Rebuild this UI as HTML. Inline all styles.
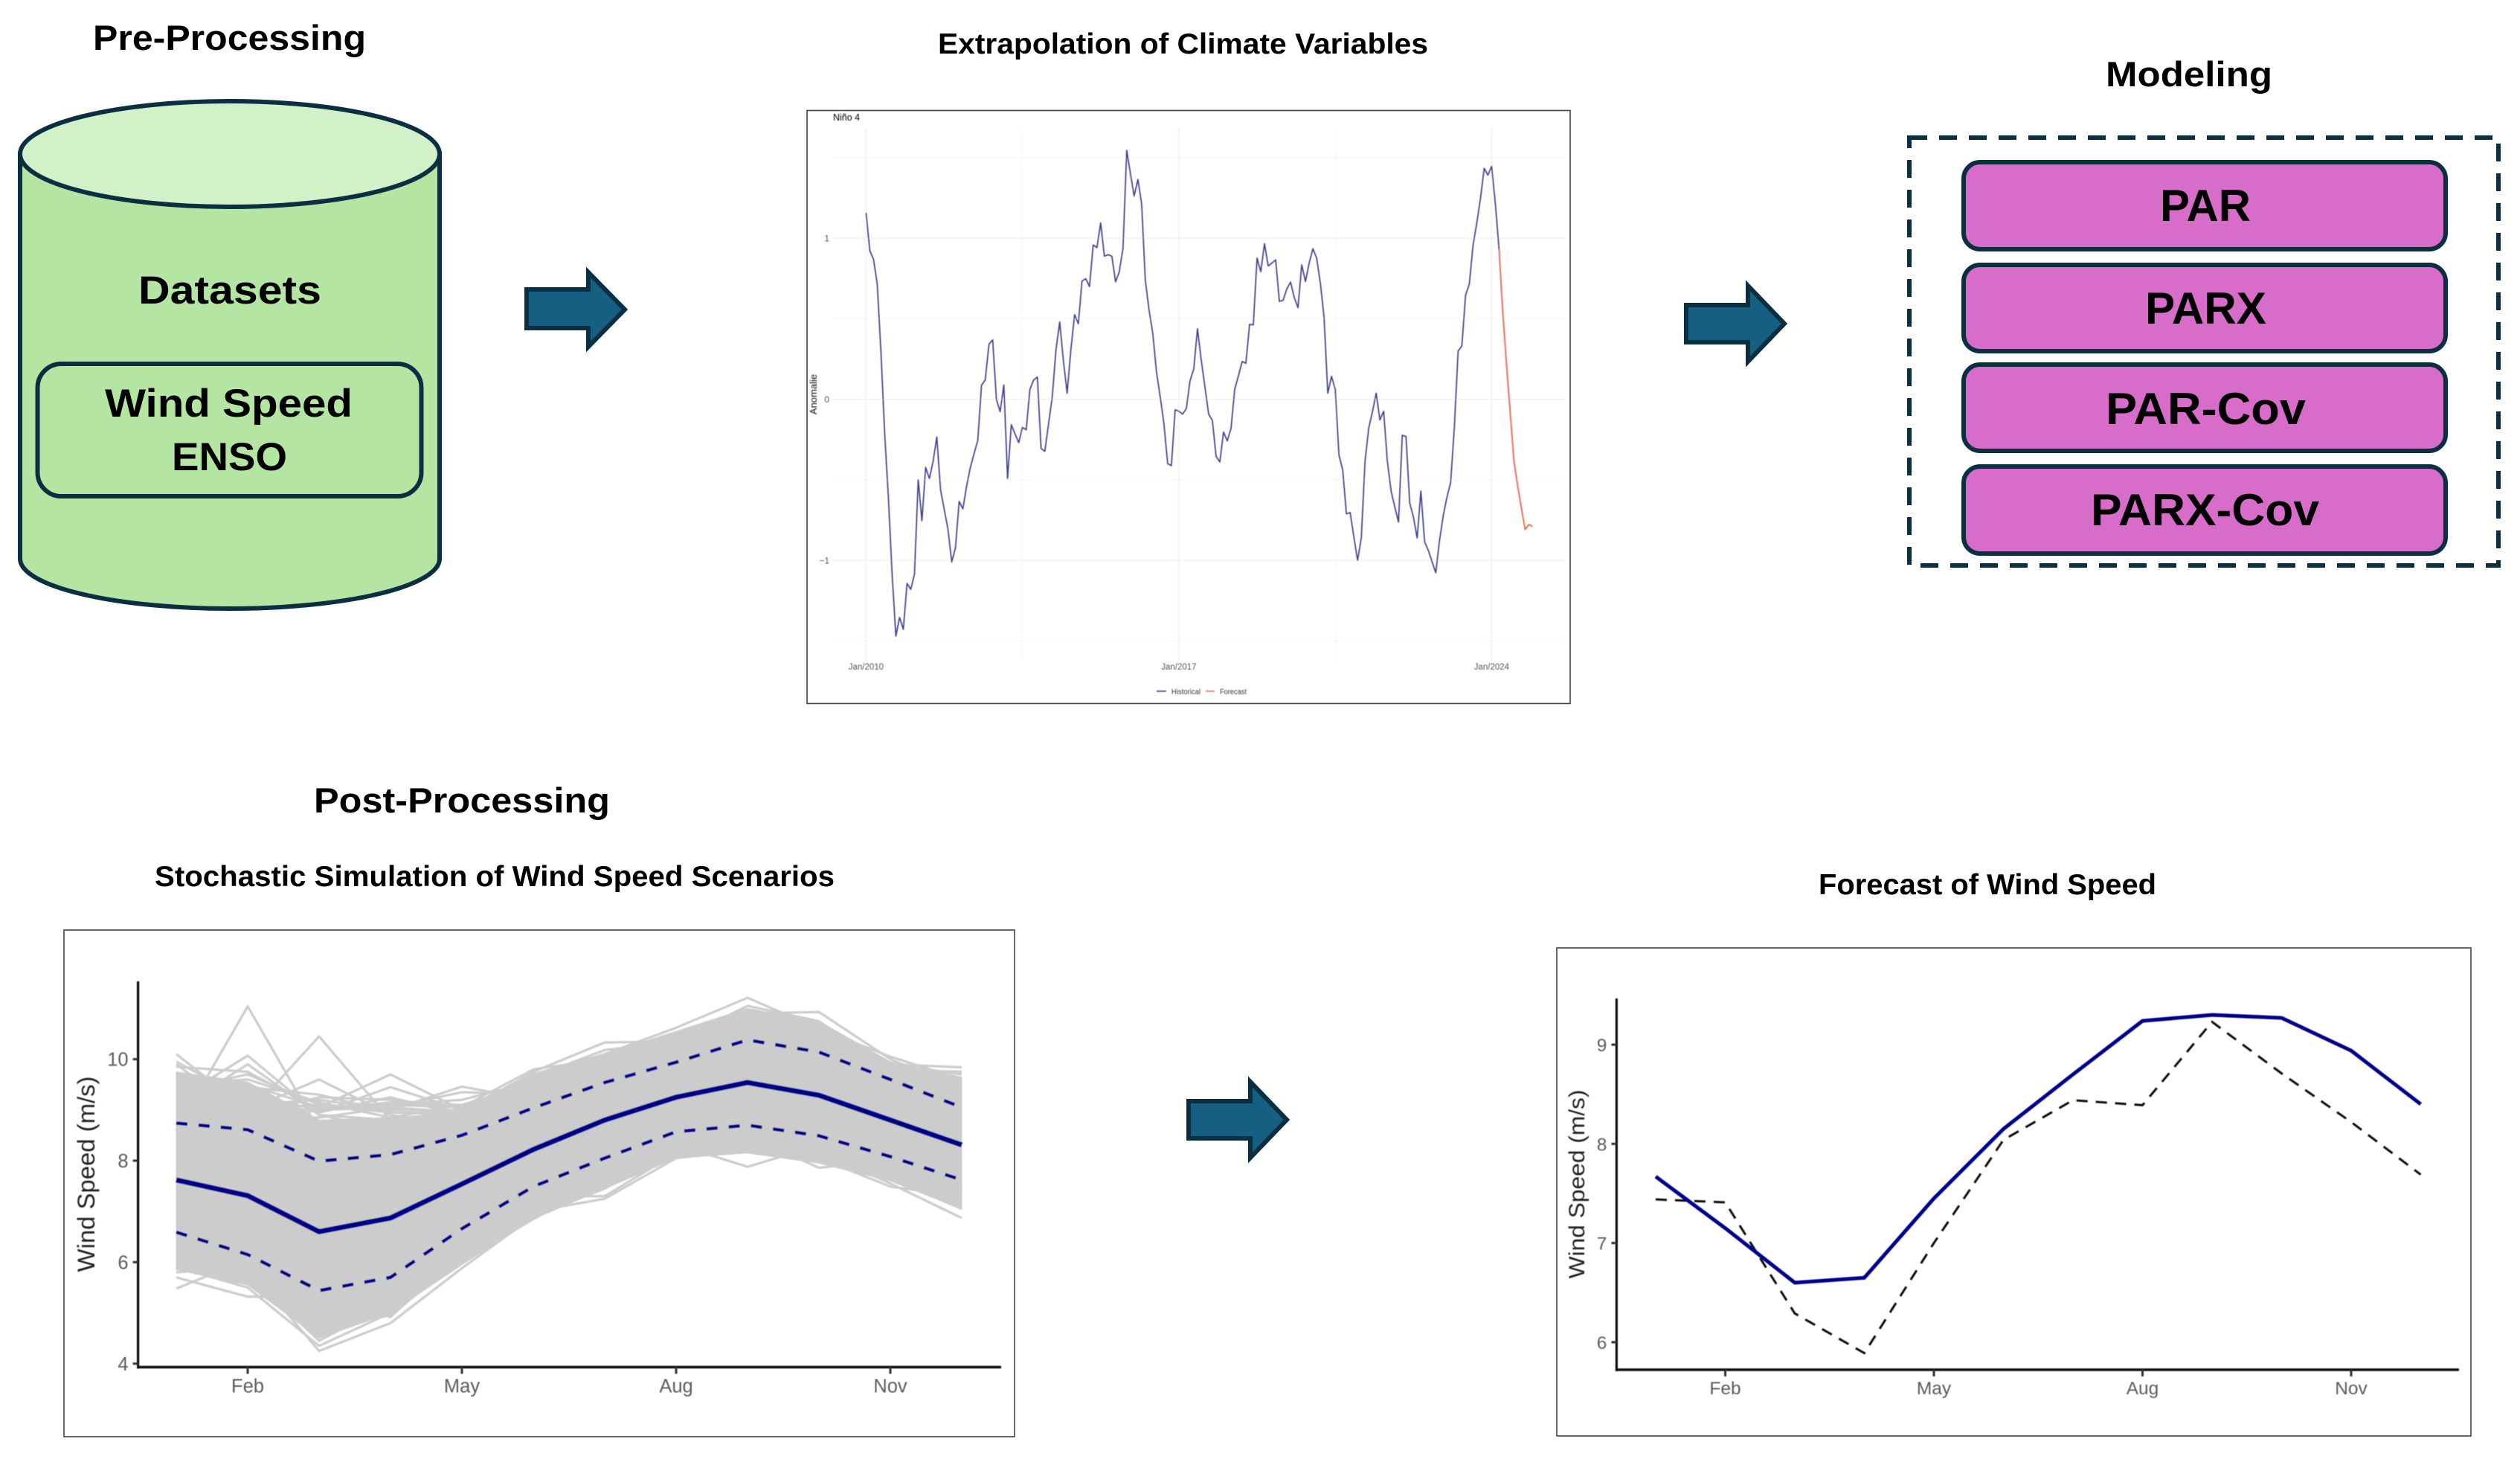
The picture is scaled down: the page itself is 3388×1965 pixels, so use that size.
<!DOCTYPE html>
<html lang="en">
<head>
<meta charset="utf-8">
<title>Wind Speed Forecasting Workflow</title>
<style>
html,body{margin:0;padding:0;background:#fff;}
svg{display:block;font-family:"Liberation Sans",sans-serif;}
.h{font-weight:700;fill:#000;}
</style>
</head>
<body>
<svg id="root" xmlns="http://www.w3.org/2000/svg" width="3388" height="1965" viewBox="0 0 3388 1965">
<defs>
<filter id="soft" x="-2%" y="-2%" width="104%" height="104%"><feGaussianBlur stdDeviation="0.55"/></filter>
<filter id="softer" x="-2%" y="-2%" width="104%" height="104%"><feGaussianBlur stdDeviation="0.4"/></filter>
</defs>
<rect width="3388" height="1965" fill="#ffffff"/>

<!-- Pre-processing -->
<text class="h" x="125" y="67" font-size="47" textLength="367" lengthAdjust="spacingAndGlyphs">Pre-Processing</text>
<g stroke="#0A2F41" stroke-width="6">
<path d="M27 207 L27 751 A282 67 0 0 0 591 751 L591 207 Z" fill="#B4E5A2"/>
<ellipse cx="309" cy="207" rx="282" ry="71" fill="#D2F1C8"/>
</g>
<text class="h" x="186" y="408" font-size="53" textLength="246" lengthAdjust="spacingAndGlyphs">Datasets</text>
<rect x="50.5" y="489" width="516" height="178" rx="32" fill="#B4E5A2" stroke="#0A2F41" stroke-width="6"/>
<text class="h" x="141" y="560" font-size="53" textLength="333" lengthAdjust="spacingAndGlyphs">Wind Speed</text>
<text class="h" x="231" y="632" font-size="53" textLength="155" lengthAdjust="spacingAndGlyphs">ENSO</text>

<!-- Arrows -->
<path d="M708 389 H791 V366 L840 416 L791 466 V441 H708 Z" fill="#156082" stroke="#0A2F41" stroke-width="6"/>
<path d="M2267 410 H2350 V384 L2399 435 L2350 486 V460 H2267 Z" fill="#156082" stroke="#0A2F41" stroke-width="6"/>
<path d="M1598 1480 H1681 V1454 L1730 1505 L1681 1556 V1530 H1598 Z" fill="#156082" stroke="#0A2F41" stroke-width="6"/>

<!-- Extrapolation title -->
<text class="h" x="1261" y="72" font-size="39" textLength="659" lengthAdjust="spacingAndGlyphs">Extrapolation of Climate Variables</text>
<rect x="1085" y="148.5" width="1026" height="797" fill="#fff" stroke="#444" stroke-width="1.6"/>
<g id="ninoChart" filter="url(#soft)"></g>

<!-- Modeling -->
<text class="h" x="2831" y="116" font-size="47" textLength="224" lengthAdjust="spacingAndGlyphs">Modeling</text>
<rect x="2567" y="185" width="792" height="575" fill="none" stroke="#0A2F41" stroke-width="6" stroke-dasharray="24 16"/>
<rect x="2640" y="218" width="648" height="117" rx="22" fill="#D76DC8" stroke="#0A2F41" stroke-width="6"/>
<rect x="2640" y="356" width="648" height="116" rx="22" fill="#D76DC8" stroke="#0A2F41" stroke-width="6"/>
<rect x="2640" y="490" width="648" height="116" rx="22" fill="#D76DC8" stroke="#0A2F41" stroke-width="6"/>
<rect x="2640" y="627" width="648" height="117" rx="22" fill="#D76DC8" stroke="#0A2F41" stroke-width="6"/>
<text class="h" x="2904" y="297" font-size="60" textLength="122" lengthAdjust="spacingAndGlyphs">PAR</text>
<text class="h" x="2884" y="435" font-size="60" textLength="163" lengthAdjust="spacingAndGlyphs">PARX</text>
<text class="h" x="2831" y="570" font-size="60" textLength="269" lengthAdjust="spacingAndGlyphs">PAR-Cov</text>
<text class="h" x="2811" y="706" font-size="60" textLength="307" lengthAdjust="spacingAndGlyphs">PARX-Cov</text>

<!-- Post-processing -->
<text class="h" x="422" y="1092" font-size="47" textLength="398" lengthAdjust="spacingAndGlyphs">Post-Processing</text>
<text class="h" x="208" y="1191" font-size="39" textLength="914" lengthAdjust="spacingAndGlyphs">Stochastic Simulation of Wind Speed Scenarios</text>
<text class="h" x="2445" y="1202" font-size="39" textLength="454" lengthAdjust="spacingAndGlyphs">Forecast of Wind Speed</text>
<rect x="86" y="1250" width="1278" height="681" fill="#fff" stroke="#444" stroke-width="1.6"/>
<g id="simChart" filter="url(#softer)"></g>
<rect x="2093" y="1274" width="1229" height="656" fill="#fff" stroke="#444" stroke-width="1.6"/>
<g id="fcChart" filter="url(#softer)"></g>
</svg>

<script>
/* ---------- Nino 4 chart data ---------- */
const ninoHistorical = [1.158,0.923,0.869,0.715,0.29,-0.215,-0.615,-1.09,-1.47,-1.354,-1.428,-1.143,-1.18,-1.085,-0.5,-0.754,-0.423,-0.492,-0.385,-0.234,-0.562,-0.685,-0.808,-1.01,-0.923,-0.634,-0.68,-0.538,-0.423,-0.338,-0.254,0.088,0.12,0.342,0.369,0.0,-0.077,0.089,-0.492,-0.157,-0.215,-0.269,-0.174,-0.189,0.062,0.12,0.138,-0.305,-0.323,-0.154,0.015,0.308,0.48,0.238,0.038,0.308,0.526,0.469,0.735,0.749,0.7,0.958,0.942,1.095,0.889,0.898,0.889,0.729,0.792,0.938,1.546,1.4,1.262,1.365,1.215,0.738,0.554,0.408,0.169,0.015,-0.154,-0.4,-0.412,-0.065,-0.074,-0.092,-0.058,0.115,0.188,0.438,0.246,0.077,-0.092,-0.131,-0.354,-0.389,-0.203,-0.258,-0.182,0.062,0.146,0.235,0.223,0.466,0.462,0.877,0.792,0.966,0.828,0.846,0.866,0.608,0.615,0.685,0.728,0.631,0.569,0.835,0.731,0.846,0.935,0.877,0.723,0.508,0.038,0.143,0.062,-0.346,-0.438,-0.711,-0.703,-0.854,-1.0,-0.861,-0.385,-0.177,-0.077,0.038,-0.128,-0.074,-0.385,-0.569,-0.669,-0.762,-0.223,-0.231,-0.643,-0.731,-0.861,-0.569,-0.885,-0.938,-1.008,-1.077,-0.877,-0.723,-0.608,-0.515,-0.169,0.3,0.331,0.646,0.715,0.954,1.092,1.246,1.434,1.392,1.446,1.215,0.931];
const ninoForecast = [0.931,0.538,0.215,-0.085,-0.385,-0.538,-0.677,-0.808,-0.777,-0.79];
const ninoYTicks = [-1,0,1];
const ninoYMinor = [-1.5,-0.5,0.5,1.5];
const ninoXTickMonths = [0,84,168];
const ninoXTickLabels = ["Jan/2010","Jan/2017","Jan/2024"];
const ninoXMinorMonths = [42,126];

/* ---------- Simulation chart data ---------- */
const months = ["Jan","Feb","Mar","Apr","May","Jun","Jul","Aug","Sep","Oct","Nov","Dec"];
const monthTickIndex = [1,4,7,10];
const simYTicks = [4,6,8,10];
const simMean = [7.62,7.31,6.6,6.87,7.54,8.22,8.8,9.25,9.54,9.29,8.8,8.31];
const simUpper = [8.74,8.61,7.99,8.12,8.5,9.04,9.54,9.94,10.38,10.14,9.6,9.05];
const simLower = [6.59,6.15,5.44,5.7,6.66,7.49,8.05,8.57,8.7,8.49,8.08,7.62];
const simBandTop = [9.75,9.55,8.8,8.85,8.95,9.7,10.1,10.55,11.0,10.75,9.95,9.65];
const simBandBottom = [5.85,5.55,4.5,5.0,5.95,6.85,7.45,8.05,8.15,7.95,7.6,7.05];
const simScenarios = [
 [8.6,11.04,8.6,8.4,8.5,9.0,9.5,9.9,10.2,10.0,9.4,9.0],
 [8.0,8.9,10.45,8.8,8.5,9.1,9.6,10.0,10.3,10.1,9.3,8.9],
 [9.2,10.07,8.9,8.6,8.6,9.2,9.6,10.0,10.2,10.0,9.5,9.0],
 [10.1,9.0,8.7,8.6,8.7,9.3,9.7,10.1,10.4,10.1,9.5,9.1],
 [9.0,9.9,8.9,8.8,8.6,9.2,9.7,10.0,10.3,10.0,9.4,9.1],
 [9.7,9.0,9.6,8.9,8.7,9.3,9.6,10.0,10.3,10.0,9.4,9.0],
 [9.9,8.85,9.05,9.7,9.0,9.2,9.7,10.0,10.3,10.1,9.5,9.1],
 [9.4,9.7,9.1,9.0,9.46,9.2,9.7,10.1,10.3,10.1,9.5,9.1],
 [9.6,9.3,9.0,9.05,9.35,9.3,9.7,10.1,10.4,10.1,9.5,9.0],
 [9.3,8.9,9.25,9.2,9.05,9.8,10.0,10.2,10.5,10.2,9.6,9.2],
 [9.2,9.45,9.3,8.95,8.95,9.75,10.33,10.35,10.62,10.2,9.6,9.2],
 [9.1,9.2,8.95,9.45,9.0,9.7,10.1,10.62,11.21,10.6,9.7,9.3],
 [9.05,8.8,9.0,9.15,9.1,9.5,10.1,10.3,10.9,10.93,10.0,9.4],
 [9.3,9.0,9.1,8.95,8.9,9.4,9.9,10.4,10.7,10.6,10.05,9.6],
 [8.9,8.9,8.85,9.05,8.95,9.5,9.95,10.5,10.8,10.5,9.9,9.84],
 [9.0,9.1,9.2,9.0,9.0,9.65,10.18,10.35,11.05,10.75,9.8,9.75],
 [9.85,9.75,9.0,9.1,9.05,9.6,10.0,10.3,10.7,10.4,9.7,9.45],
 [9.5,9.6,9.15,8.85,9.1,9.5,10.05,10.4,10.8,10.3,9.75,9.5],
 [9.95,9.2,8.95,9.25,8.9,9.45,9.95,10.25,10.6,10.7,9.8,9.55],
 [9.3,9.5,9.05,9.1,9.2,9.55,9.85,10.45,10.65,10.5,9.9,9.7],
 [5.48,6.05,5.3,5.5,6.3,7.0,7.7,8.3,8.5,8.3,7.9,7.3],
 [5.7,5.32,5.32,4.92,6.2,7.1,7.6,8.2,8.5,8.3,7.9,7.4],
 [5.8,5.9,4.25,4.8,5.88,6.9,7.45,8.2,8.4,8.3,7.8,7.3],
 [5.9,5.5,4.35,5.0,6.0,6.85,7.6,8.25,8.5,8.3,7.9,7.4],
 [6.0,5.7,4.7,4.95,6.1,7.0,7.7,8.2,8.6,8.3,7.8,7.5],
 [6.2,5.8,4.45,5.2,6.3,7.0,7.25,8.05,8.2,8.2,7.9,7.5],
 [6.1,5.9,5.0,5.25,6.2,7.3,7.3,8.15,8.3,8.2,8.0,7.4],
 [6.3,6.0,4.9,5.3,6.4,7.2,8.0,8.32,7.88,8.3,8.0,7.5],
 [6.3,6.0,5.1,5.5,6.5,7.3,7.9,8.4,8.5,7.86,8.0,7.6],
 [6.4,6.1,5.2,5.6,6.5,7.4,8.0,8.4,8.6,8.05,7.49,7.3],
 [6.4,6.2,5.3,5.7,6.6,7.4,8.0,8.5,8.6,8.2,7.55,6.87],
 [6.5,6.2,5.3,5.8,6.7,7.5,8.0,8.5,8.7,8.3,7.65,7.05]
];

/* ---------- Forecast chart data ---------- */
const fcYTicks = [6,7,8,9];
const fcPredicted = [7.67,7.15,6.6,6.65,7.45,8.15,8.7,9.24,9.3,9.27,8.94,8.4];
const fcObserved = [7.44,7.41,6.29,5.89,7.0,8.04,8.44,8.39,9.23,8.71,8.22,7.69];

/* ---------- helpers ---------- */
const NS = "http://www.w3.org/2000/svg";
function make(parent, tag, attrs, text) {
  const el = document.createElementNS(NS, tag);
  for (const k in attrs) el.setAttribute(k, attrs[k]);
  if (text !== undefined) el.textContent = text;
  parent.appendChild(el);
  return el;
}
function linePath(values, sx, sy) {
  return values.map(function (v, i) { return (i ? "L" : "M") + sx(i).toFixed(2) + " " + sy(v).toFixed(2); }).join(" ");
}

/* ---------- Nino chart ---------- */
(function () {
  const g = document.getElementById("ninoChart");
  const sx = function (m) { return 1164.4 + m * 5.006; };
  const sy = function (v) { return 536.7 - v * 216.5; };
  ninoYMinor.concat(ninoYTicks).forEach(function (v) {
    const major = ninoYTicks.indexOf(v) >= 0;
    const l = make(g, "line", {x1: 1120, x2: 2104, y1: sy(v), y2: sy(v), stroke: major ? "#f0f0f3" : "#f7f7f8", "stroke-width": 1.4});
    
    
  });
  ninoXMinorMonths.concat(ninoXTickMonths).forEach(function (m) {
    const major = ninoXTickMonths.indexOf(m) >= 0;
    const l = make(g, "line", {x1: sx(m), x2: sx(m), y1: 172, y2: 888, stroke: major ? "#f0f0f3" : "#f8f8f9", "stroke-width": 1.4});
    
    
  });
  const hist = make(g, "path", {d: linePath(ninoHistorical, sx, sy), fill: "none", stroke: "#3F3F8C", "stroke-width": 1.7, "stroke-linejoin": "round"});
  
  
  const offset = ninoHistorical.length - 1;
  const fc = make(g, "path", {d: linePath(ninoForecast, function (i) { return sx(i + offset); }, sy), fill: "none", stroke: "#EC6F5C", "stroke-width": 2, "stroke-linejoin": "round"});
  
  
  ninoYTicks.forEach(function (v) {
    const t = make(g, "text", {x: 1115, y: sy(v) + 4.5, "text-anchor": "end", "font-size": 12, fill: "#555"}, v < 0 ? "\u2212" + Math.abs(v) : String(v));
    
    
  });
  ninoXTickMonths.forEach(function (m, i) {
    const t = make(g, "text", {x: sx(m), y: 900, "text-anchor": "middle", "font-size": 11.5, fill: "#555"}, ninoXTickLabels[i]);
    
    
  });
  const title = make(g, "text", {x: 1120, y: 162, "font-size": 12.5, fill: "#000"}, "Ni\u00f1o 4");
  
  
  const yt = make(g, "text", {transform: "translate(1098,530) rotate(-90)", "text-anchor": "middle", "font-size": 13, fill: "#111"}, "Anomalie");
  
  
  const lk1 = make(g, "line", {x1: 1555, x2: 1568, y1: 929, y2: 929, stroke: "#3F3F8C", "stroke-width": 1.6});
  
  
  const lt1 = make(g, "text", {x: 1575, y: 933, "font-size": 10, fill: "#333", textLength: 39, lengthAdjust: "spacingAndGlyphs"}, "Historical");
  
  
  const lk2 = make(g, "line", {x1: 1621, x2: 1633, y1: 929, y2: 929, stroke: "#EC6F5C", "stroke-width": 1.6});
  
  
  const lt2 = make(g, "text", {x: 1640, y: 933, "font-size": 10, fill: "#333", textLength: 36, lengthAdjust: "spacingAndGlyphs"}, "Forecast");
  
  
})();

/* ---------- shared axes for the ggplot-style charts ---------- */
function drawAxes(g, o) {
  const ya = make(g, "line", {x1: o.x0, x2: o.x0, y1: o.top, y2: o.bottom + 2, stroke: "#111", "stroke-width": 3.2});
  
  
  const xa = make(g, "line", {x1: o.x0, x2: o.x1, y1: o.bottom, y2: o.bottom, stroke: "#111", "stroke-width": 3.6});
  
  
  o.yTicks.forEach(function (v) {
    const t = make(g, "line", {x1: o.x0 - 7, x2: o.x0, y1: o.sy(v), y2: o.sy(v), stroke: "#333", "stroke-width": 3});
    
    
    const l = make(g, "text", {x: o.x0 - 13, y: o.sy(v) + 9, "text-anchor": "end", "font-size": o.tickFont, fill: "#5c5c5c"}, String(v));
    
    
  });
  monthTickIndex.forEach(function (i) {
    const t = make(g, "line", {x1: o.sx(i), x2: o.sx(i), y1: o.bottom, y2: o.bottom + 9, stroke: "#333", "stroke-width": 3});
    
    
    const l = make(g, "text", {x: o.sx(i), y: o.labelY, "text-anchor": "middle", "font-size": o.tickFont, fill: "#5c5c5c"}, months[i]);
    
    
  });
  const yt = make(g, "text", {transform: "translate(" + o.titleX + "," + o.titleY + ") rotate(-90)", x: -o.titleLen / 2, y: 0, "font-size": o.titleFont, fill: "#222", textLength: o.titleLen, lengthAdjust: "spacingAndGlyphs"}, "Wind Speed (m/s)");
  
  
}

/* ---------- simulation chart ---------- */
(function () {
  const g = document.getElementById("simChart");
  const sx = function (i) { return 237 + i * 96; };
  const sy = function (v) { return 1560 - (v - 8) * 68.2; };
  simScenarios.forEach(function (s) {
    const p = make(g, "path", {d: linePath(s, sx, sy), fill: "none", stroke: "#CCCCCC", "stroke-width": 3.2, "stroke-linejoin": "round"});
    
    
  });
  const pts = simBandTop.map(function (v, i) { return sx(i) + "," + sy(v); })
    .concat(simBandBottom.map(function (v, i) { return sx(i) + "," + sy(v); }).reverse());
  const band = make(g, "polygon", {points: pts.join(" "), fill: "#CCCCCC", stroke: "#CCCCCC", "stroke-width": 1});
  
  
  const u = make(g, "path", {d: linePath(simUpper, sx, sy), fill: "none", stroke: "#00008B", "stroke-width": 4.5, "stroke-dasharray": "15 15"});
  
  
  const l = make(g, "path", {d: linePath(simLower, sx, sy), fill: "none", stroke: "#00008B", "stroke-width": 4.5, "stroke-dasharray": "15 15"});
  
  
  const m = make(g, "path", {d: linePath(simMean, sx, sy), fill: "none", stroke: "#00008B", "stroke-width": 7, "stroke-linejoin": "round"});
  
  
  drawAxes(g, {prefix: "simulation", x0: 185.6, x1: 1346, top: 1319, bottom: 1837.5, sx: sx, sy: sy, yTicks: simYTicks, tickFont: 25.5, labelY: 1871.5, titleX: 127, titleY: 1578, titleLen: 263, titleFont: 32});
})();

/* ---------- forecast chart ---------- */
(function () {
  const g = document.getElementById("fcChart");
  const sx = function (i) { return 2226 + i * 93.5; };
  const sy = function (v) { return 1537.4 - (v - 8) * 133.3; };
  const obs = make(g, "path", {d: linePath(fcObserved, sx, sy), fill: "none", stroke: "#111", "stroke-width": 3, "stroke-dasharray": "15 11"});
  
  
  const pred = make(g, "path", {d: linePath(fcPredicted, sx, sy), fill: "none", stroke: "#00008B", "stroke-width": 5, "stroke-linejoin": "round"});
  
  
  drawAxes(g, {prefix: "forecast", x0: 2173.4, x1: 3306, top: 1342, bottom: 1841, sx: sx, sy: sy, yTicks: fcYTicks, tickFont: 24.5, labelY: 1874, titleX: 2130, titleY: 1591.5, titleLen: 254, titleFont: 30});
})();
</script>
</body>
</html>
